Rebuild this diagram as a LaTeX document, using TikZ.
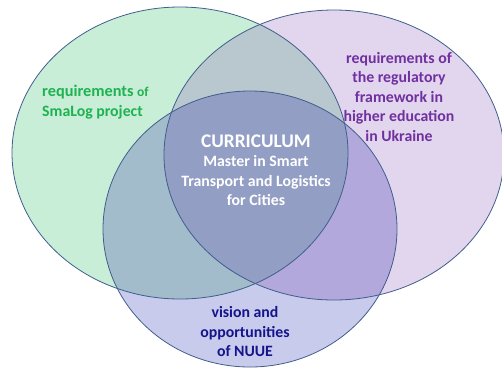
\documentclass[tikz,border=0pt]{standalone}
\usepackage{fontspec}
\setmainfont{Carlito}
\usepackage{xcolor}
\definecolor{venn_green}{RGB}{200, 238, 216}
\definecolor{venn_purple}{RGB}{226, 214, 238}
\definecolor{venn_blue}{RGB}{201, 203, 236}
\definecolor{venn_gp}{RGB}{184, 200, 206}
\definecolor{venn_gb}{RGB}{162, 188, 204}
\definecolor{venn_pb}{RGB}{178, 168, 220}
\definecolor{venn_core}{RGB}{146, 158, 196}
\definecolor{venn_line}{RGB}{64, 94, 140}
\definecolor{venn_greentext}{RGB}{30, 178, 80}
\definecolor{venn_purpletext}{RGB}{112, 48, 160}
\definecolor{venn_navytext}{RGB}{20, 20, 140}
\usepackage{tikz}
\usetikzlibrary{positioning}

\begin{document}
\begin{tikzpicture}[x=1pt, y=-1pt,
    venntext/.style={font=\bfseries\fontsize{15.8}{19.5}\selectfont, align=center, inner sep=0pt}]
        \useasboundingbox (0,0) rectangle (502,368);
        \def\greenset{(180,153) ellipse [x radius=168pt, y radius=146pt]}
        \def\purpleset{(334,155) ellipse [x radius=170pt, y radius=145pt]}
        \def\blueset{(250,229) ellipse [x radius=147pt, y radius=138pt]}
        % Ensembles seuls
        \fill[venn_green]  \greenset;
        \fill[venn_purple] \purpleset;
        \fill[venn_blue]   \blueset;
        % Intersections
        \begin{scope}
          \clip \greenset;
          \fill[venn_gp] \purpleset;
          \fill[venn_gb] \blueset;
        \end{scope}
        \begin{scope}
          \clip \purpleset;
          \fill[venn_pb] \blueset;
        \end{scope}
        \begin{scope}
          \clip \greenset;
          \clip \purpleset;
          \fill[venn_core] \blueset;
        \end{scope}
        % Contours
        \draw[venn_line, line width=0.8pt] \greenset;
        \draw[venn_line, line width=0.8pt] \purpleset;
        \draw[venn_line, line width=0.8pt] \blueset;
        % Textes
        \node[venntext, align=left, anchor=west, text=venn_greentext] (smalog) at (42,102)
          {\fontsize{16.3}{18}\selectfont requirements {\fontsize{13.5}{18}\selectfont of}\\SmaLog project};
        \node[venntext, text=venn_purpletext] (ukraine) at (399,97)
          {requirements of\\the regulatory\\framework in\\higher education\\in Ukraine};
        \node[venntext, text=white] (curriculum) at (256,170)
          {{\fontsize{19.3}{19.5}\selectfont CURRICULUM}\\Master in Smart\\Transport and Logistics\\for Cities};
        \node[venntext, text=venn_navytext] (nuue) at (245,332)
          {vision and\\opportunities\\of NUUE};
      \end{tikzpicture}
\end{document}
